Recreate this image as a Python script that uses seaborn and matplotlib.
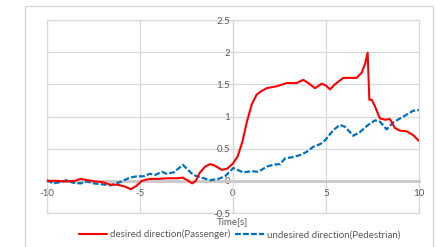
import matplotlib
matplotlib.use("Agg")
import matplotlib.pyplot as plt
from matplotlib.patches import Rectangle
import seaborn as sns
import pandas as pd

# ---- data ----
t_desired = [-10.0, -9.5, -9.0, -8.5, -8.2, -7.8, -7.4, -7.0, -6.6, -6.2, -5.8, -5.5, -5.2,
             -4.9, -4.5, -4.0, -3.5, -3.0, -2.7, -2.4, -2.2, -2.0, -1.8, -1.5, -1.24, -1.0,
             -0.6, -0.3, 0.0, 0.25, 0.5, 0.75, 1.0, 1.27, 1.5, 1.81, 2.35, 2.89, 3.42, 3.78,
             4.05, 4.41, 4.77, 5.0, 5.22, 5.48, 5.93, 6.3, 6.65, 6.92, 7.1, 7.24, 7.33, 7.46,
             7.63, 7.9, 8.17, 8.44, 8.71, 8.98, 9.34, 9.69, 10.0]
v_desired = [0.0, 0.0, -0.01, 0.0, 0.03, 0.01, -0.01, -0.02, -0.06, -0.06, -0.09, -0.13, -0.08,
             0.0, 0.03, 0.03, 0.04, 0.04, 0.05, 0.0, -0.04, 0.0, 0.12, 0.22, 0.26, 0.24,
             0.17, 0.19, 0.27, 0.38, 0.6, 0.92, 1.18, 1.34, 1.39, 1.44, 1.47, 1.52, 1.52, 1.57,
             1.52, 1.44, 1.51, 1.48, 1.42, 1.50, 1.60, 1.60, 1.60, 1.68, 1.82, 1.99, 1.26, 1.26,
             1.16, 0.97, 0.95, 0.96, 0.82, 0.78, 0.77, 0.71, 0.62]

t_undesired = [-10.0, -9.66, -9.3, -8.94, -8.59, -8.2, -7.87, -7.5, -7.15, -6.6, -6.08, -5.54,
               -5.18, -4.82, -4.46, -4.19, -3.83, -3.56, -3.2, -2.94, -2.7, -2.49, -2.13, -1.68,
               -1.24, -0.79, -0.43, 0.02, 0.55, 1.0, 1.36, 1.81, 2.17, 2.53, 2.8, 3.24, 3.6,
               3.96, 4.32, 4.68, 4.95, 5.4, 5.75, 6.02, 6.47, 6.83, 7.27, 7.63, 7.9, 8.26,
               8.62, 8.98, 9.34, 9.69, 10.0]
v_undesired = [0.01, -0.04, -0.02, 0.01, -0.03, -0.04, -0.01, -0.04, -0.05, -0.07, -0.02, 0.05,
               0.07, 0.07, 0.11, 0.09, 0.14, 0.11, 0.13, 0.19, 0.25, 0.19, 0.09, 0.05,
               0.01, 0.03, 0.07, 0.2, 0.13, 0.15, 0.14, 0.22, 0.25, 0.26, 0.35, 0.37, 0.40,
               0.45, 0.53, 0.57, 0.63, 0.79, 0.87, 0.84, 0.70, 0.76, 0.87, 0.94, 0.92, 0.80,
               0.91, 0.97, 1.03, 1.09, 1.10]

label_desired = "desired direction(Passenger)"
label_undesired = "undesired direction(Pedestrian)"
x_ticks = [-10, -5, 0, 5, 10]
y_ticks = [-0.5, 0, 0.5, 1, 1.5, 2, 2.5]
x_title = "Time[s]"

# ---- style ----
sns.set_theme(style="white")
plt.rcParams["font.family"] = ["Lato", "DejaVu Sans"]
TXT = "#595959"
GRID = "#d9d9d9"

W, H = 439, 247
fig = plt.figure(figsize=(W / 100, H / 100), dpi=100)
fig.patch.set_facecolor("white")
fig.patches.append(Rectangle((25 / W, -0.2), 408 / W, 1.2 - 6 / H, transform=fig.transFigure,
                             fill=False, edgecolor=GRID, lw=1.0))

ax = fig.add_axes([47 / W, 1 - 213 / H, 372 / W, 193 / H])

df_d = pd.DataFrame({"t": t_desired, "v": v_desired})
df_u = pd.DataFrame({"t": t_undesired, "v": v_undesired})

sns.lineplot(data=df_u, x="t", y="v", ax=ax, color="#0070C0", lw=1.6, sort=False,
             label=label_undesired, dashes=False, zorder=3)
ax.lines[-1].set_dashes((2.6, 1.0))
sns.lineplot(data=df_d, x="t", y="v", ax=ax, color="#FF0000", lw=1.5, sort=False,
             label=label_desired, zorder=4)

ax.set_xlim(-10, 10)
ax.set_ylim(-0.5, 2.5)
ax.set_xticks(x_ticks)
ax.set_yticks(y_ticks)
ax.set_xticklabels([str(v) for v in x_ticks])
ax.set_yticklabels(["-0.5", "0", "0.5", "1", "1.5", "2", "2.5"])
ax.set_xlabel("")
ax.set_ylabel("")

ax.grid(True, color=GRID, lw=0.9)
for yv in (-0.5, 2.5):
    ax.axhline(yv, color=GRID, lw=0.9, clip_on=False, zorder=0.5)
for xv in (-10, 10):
    ax.axvline(xv, color=GRID, lw=0.9, clip_on=False, zorder=0.5)

for s in ("top", "right"):
    ax.spines[s].set_visible(False)
ax.spines["left"].set_position(("data", 0))
ax.spines["left"].set_color(GRID)
ax.spines["left"].set_linewidth(0.9)
ax.spines["bottom"].set_position(("data", 0))
ax.spines["bottom"].set_color("#c8c8c8")
ax.spines["bottom"].set_linewidth(2.0)
ax.spines["bottom"].set_zorder(2)

ax.tick_params(axis="both", length=0, labelsize=7, labelcolor=TXT)
ax.tick_params(axis="x", pad=6)
ax.tick_params(axis="y", pad=2)

ax.text(0.5, -(222 - 213) / 193, x_title, transform=ax.transAxes, ha="center", va="center",
        fontsize=7, color=TXT)

handles, labels = ax.get_legend_handles_labels()
order = [labels.index(label_desired), labels.index(label_undesired)]
leg = fig.legend([handles[i] for i in order], [labels[i] for i in order],
                 loc="center", bbox_to_anchor=(239.5 / W, 1 - 234.5 / H), ncol=2,
                 frameon=False, fontsize=7, handlelength=2.9, handletextpad=0.3,
                 columnspacing=0.5, borderaxespad=0, borderpad=0)
for txt in leg.get_texts():
    txt.set_color(TXT)
ax.get_legend().remove()

fig.savefig("out.png", dpi=100, facecolor="white")
